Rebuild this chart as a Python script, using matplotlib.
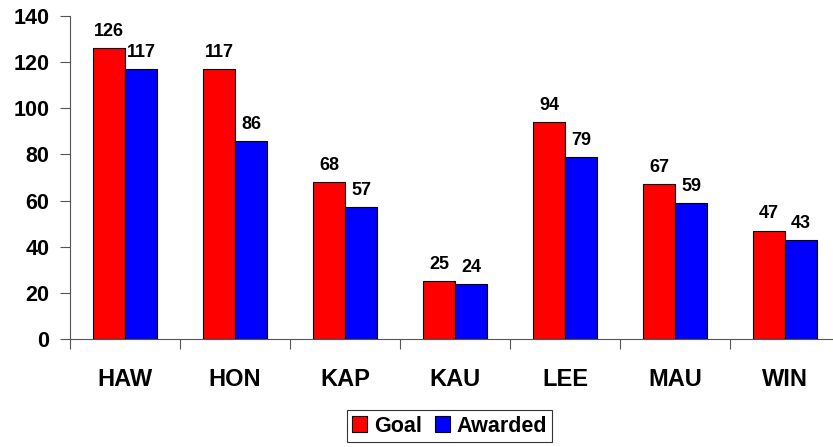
import matplotlib
matplotlib.use("Agg")
import matplotlib.pyplot as plt
import numpy as np

categories = ["HAW", "HON", "KAP", "KAU", "LEE", "MAU", "WIN"]
goal = [126, 117, 68, 25, 94, 67, 47]
awarded = [117, 86, 57, 24, 79, 59, 43]

plt.rcParams['font.family'] = ['Liberation Sans', 'DejaVu Sans']
plt.rcParams['font.weight'] = 'bold'

fig = plt.figure(figsize=(8.33, 4.47), dpi=100)
W, H = 833, 447
left, right, bottom, top = 70, 833, 447 - 339, 447 - 16
ax = fig.add_axes([left / W, bottom / H, (right - left) / W, (top - bottom) / H])

x = np.arange(len(categories))
bw = 0.29
ax.bar(x - bw / 2, goal, bw, color='#ff0000', edgecolor='black', linewidth=0.8, label='Goal')
ax.bar(x + bw / 2, awarded, bw, color='#0000ff', edgecolor='black', linewidth=0.8, label='Awarded')

for xi, g, a in zip(x, goal, awarded):
    ax.text(xi - bw / 2, g + 3.5, str(g), ha='center', va='bottom', fontsize=13, fontweight='bold')
    ax.text(xi + bw / 2, a + 3.5, str(a), ha='center', va='bottom', fontsize=13, fontweight='bold')

ax.set_xlim(-0.5, -0.5 + (right - left) / 110)
ax.set_ylim(0, 140)
ax.set_yticks(range(0, 141, 20))
ax.set_yticklabels([str(v) for v in range(0, 141, 20)], fontsize=15.5, fontweight='bold')
ax.set_xticks(np.arange(-0.5, len(categories) - 0.5, 1))
ax.set_xticklabels([])
ax.set_xticks(x, minor=True)
ax.set_xticklabels(categories, minor=True, fontsize=17, fontweight='bold')
ax.tick_params(axis='x', which='minor', length=0, pad=21)
ax.tick_params(axis='x', which='major', direction='out', length=7, width=0.8, color='#555555')
ax.tick_params(axis='y', direction='out', length=7, width=0.8, color='#555555', pad=8)
for s in ['top', 'right']:
    ax.spines[s].set_visible(False)
for s in ['left', 'bottom']:
    ax.spines[s].set_color('#555555')
    ax.spines[s].set_linewidth(0.8)

leg = fig.legend(loc='center', bbox_to_anchor=(449.5 / W, 1 - 426 / H), ncol=2, frameon=True,
                 fancybox=False, edgecolor='black', prop={'size': 15.5, 'weight': 'bold'},
                 handlelength=0.7, handleheight=0.7, handletextpad=0.3, columnspacing=0.6,
                 borderpad=0.25)
leg.get_frame().set_linewidth(0.8)

fig.savefig("out.png", dpi=100)
